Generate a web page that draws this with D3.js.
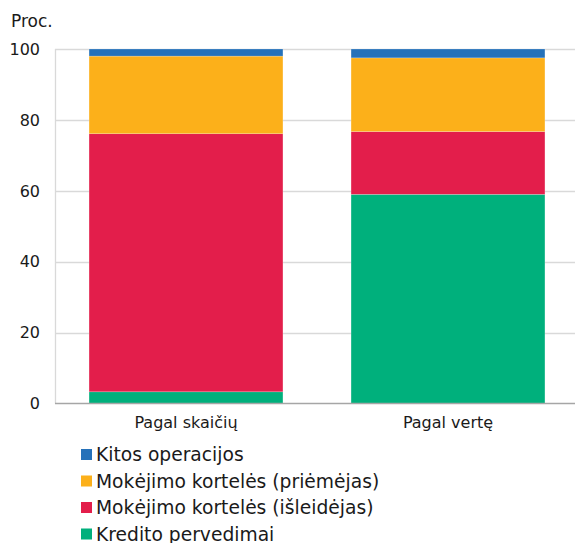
<!DOCTYPE html>
<html>
<head>
<meta charset="utf-8">
<script src="https://cdn.jsdelivr.net/npm/d3@7"></script>
<style>
  html, body { margin: 0; padding: 0; background: #fff; }
  svg { display: block; font-family: "DejaVu Sans", Verdana, sans-serif; }
</style>
</head>
<body>
<svg id="chart" width="575" height="543"></svg>
<script>
// Categories along the x axis
const categories = ["Pagal skaičių", "Pagal vertę"];

// Series (bottom to top in the stack), share in percent
const seriesNames = [
  "Kredito pervedimai",
  "Mokėjimo kortelės (išleidėjas)",
  "Mokėjimo kortelės (priėmėjas)",
  "Kitos operacijos"
];
const kreditoPervedimai = [3.3, 59.0];
const korteliuIsleidejas = [72.8, 17.7];
const korteliuPriemejas = [21.9, 20.8];
const kitosOperacijos = [2.0, 2.5];

const seriesColors = ["#00b07c", "#e31e4b", "#fcb01a", "#2571b9"];
const yTicks = [0, 20, 40, 60, 80, 100];
const unitLabel = "Proc.";

// Build rows for d3.stack
const rows = categories.map((c, i) => ({
  category: c,
  [seriesNames[0]]: kreditoPervedimai[i],
  [seriesNames[1]]: korteliuIsleidejas[i],
  [seriesNames[2]]: korteliuPriemejas[i],
  [seriesNames[3]]: kitosOperacijos[i]
}));
const stacked = d3.stack().keys(seriesNames)(rows);

const svg = d3.select("#chart");
const margin = { left: 55, right: -4, top: 49, bottom: 140 };
const W = 575, H = 543;
const plotRight = W - margin.right;
const plotBottom = H - margin.bottom + 0.5;

const x = d3.scaleBand().domain(categories).range([margin.left, plotRight]).paddingInner(0.26).paddingOuter(0.13);
const y = d3.scaleLinear().domain([0, 100]).range([plotBottom, margin.top]);

// Horizontal gridlines
svg.append("g").selectAll("line").data(yTicks.filter(t => t > 0)).join("line")
  .attr("x1", margin.left).attr("x2", plotRight)
  .attr("y1", d => Math.round(y(d)) + 0.5).attr("y2", d => Math.round(y(d)) + 0.5)
  .attr("stroke", "#d9d9d9").attr("stroke-width", 1.3);

// Left axis line
svg.append("line")
  .attr("x1", margin.left + 0.5).attr("x2", margin.left + 0.5)
  .attr("y1", y(100)).attr("y2", y(0))
  .attr("stroke", "#d9d9d9").attr("stroke-width", 1.3);

// Y tick labels
svg.append("g").selectAll("text").data(yTicks).join("text")
  .attr("x", 40).attr("y", d => y(d)).attr("dy", "0.36em")
  .attr("text-anchor", "end").attr("font-size", 16).attr("fill", "#1a1a1a")
  .text(d => d);

// Unit label
svg.append("text").attr("x", 11).attr("y", 27)
  .attr("font-size", 17).attr("fill", "#1a1a1a").text(unitLabel);

// Stacked bars
svg.append("g").selectAll("g").data(stacked).join("g")
  .attr("fill", (d, i) => seriesColors[i])
  .selectAll("rect").data(d => d).join("rect")
  .attr("x", d => x(d.data.category))
  .attr("width", x.bandwidth())
  .attr("y", d => y(d[1]))
  .attr("height", d => y(d[0]) - y(d[1]))
  .attr("stroke", "rgba(255,255,255,0.35)").attr("stroke-width", 0.6);

// Bottom axis line
svg.append("line")
  .attr("x1", margin.left).attr("x2", plotRight)
  .attr("y1", y(0)).attr("y2", y(0))
  .attr("stroke", "#a6a6a6").attr("stroke-width", 1.5);

// Category labels
svg.append("g").selectAll("text").data(categories).join("text")
  .attr("x", d => x(d) + x.bandwidth() / 2).attr("y", 428)
  .attr("text-anchor", "middle").attr("font-size", 16).attr("fill", "#1a1a1a")
  .text(d => d);

// Legend, top entry is the top of the stack
const legendItems = seriesNames.map((n, i) => ({ name: n, color: seriesColors[i] })).reverse();
const legend = svg.append("g").selectAll("g").data(legendItems).join("g")
  .attr("transform", (d, i) => `translate(81, ${454.5 + i * 26.5})`);
legend.append("rect").attr("x", 0).attr("y", -5.5).attr("width", 11).attr("height", 11)
  .attr("fill", d => d.color);
legend.append("text").attr("x", 15).attr("y", 0).attr("dy", "0.36em")
  .attr("font-size", 18.7).attr("fill", "#1a1a1a").text(d => d.name);
</script>
</body>
</html>
